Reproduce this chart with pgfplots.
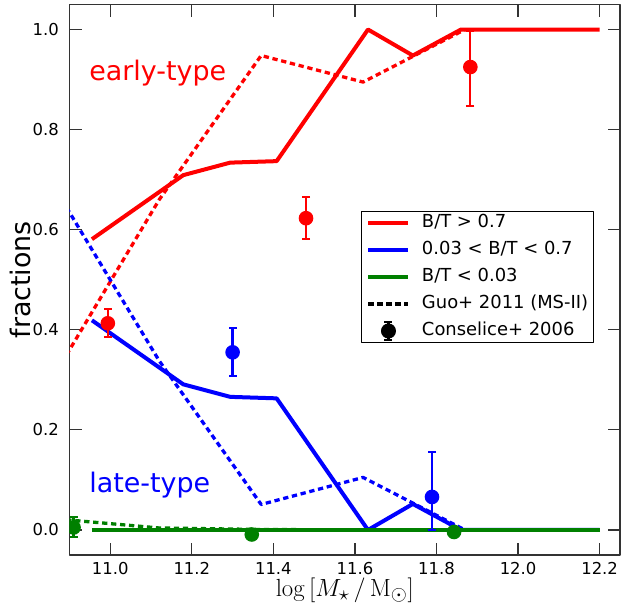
\documentclass[border=0pt]{standalone}
\usepackage[no-math]{fontspec}
\setmainfont{DejaVu Sans}
\usepackage{pgfplots}
\pgfplotsset{compat=1.18}
\definecolor{mred}{rgb}{1,0,0}
\definecolor{mblue}{rgb}{0,0,1}
\definecolor{mgreen}{rgb}{0,0.5,0}
\begin{document}
\begin{tikzpicture}
\begin{axis}[
  scale only axis, width=550.5bp, height=550.5bp,
  xmin=10.9, xmax=12.25, ymin=-0.05, ymax=1.05,
  xtick={11.0,11.2,11.4,11.6,11.8,12.0,12.2},
  ytick={0.0,0.2,0.4,0.6,0.8,1.0},
  tick align=inside, major tick length=12.5bp,
  /pgf/number format/assume math mode=true,
  x tick label style={/pgf/number format/.cd, fixed, fixed zerofill, precision=1, /tikz/.cd, inner sep=0bp, anchor=north, yshift=-7bp},
  y tick label style={/pgf/number format/.cd, fixed, fixed zerofill, precision=1, /tikz/.cd, inner sep=0bp, anchor=east, xshift=-10.5bp},
  tick label style={font=\fontsize{16.5}{19}\selectfont},
  axis line style={line width=1.2bp, black!80},
  every tick/.style={line width=1.2bp, black!80},
  clip marker paths=true,
  unbounded coords=jump,
  xlabel={$\log\,[M_{\star}\,/\,\mathrm{M}_{\odot}]$},
  xlabel style={at={(axis description cs:0.5,-0.0757)}, anchor=base, font=\fontsize{28.5}{32}\selectfont},
  ylabel={fractions},
  ylabel style={at={(axis description cs:-0.0717,0.5)}, anchor=base, rotate=0, font=\fontsize{27}{32}\selectfont},
  legend cell align=left,
  legend style={at={(0.5295,0.6249)}, anchor=north west, draw=black, line width=1bp, fill=white,
    font=\fontsize{18}{21}\selectfont, inner xsep=5bp, inner ysep=3bp,
    nodes={inner sep=0bp, text height=13bp, text depth=4bp},
    row sep=10bp},
  line join=round,
]
\addlegendimage{legend image code/.code={\draw[mred,line width=4bp] (0bp,0bp) -- (40bp,0bp); \path (53bp,0bp);}}
\addlegendentry{B/T > 0.7}
\addlegendimage{legend image code/.code={\draw[mblue,line width=4bp] (0bp,0bp) -- (40bp,0bp); \path (53bp,0bp);}}
\addlegendentry{0.03 < B/T < 0.7}
\addlegendimage{legend image code/.code={\draw[mgreen,line width=4bp] (0bp,0bp) -- (40bp,0bp); \path (53bp,0bp);}}
\addlegendentry{B/T < 0.03}
\addlegendimage{legend image code/.code={\draw[black,line width=3.3bp,dash pattern=on 5.3bp off 3.7bp] (0bp,0bp) -- (40bp,0bp); \path (53bp,0bp);}}
\addlegendentry{Guo+ 2011 (MS-II)}
\addlegendimage{legend image code/.code={\draw[black,line width=2.2bp,overlay] (20bp,-9bp) -- (20bp,9bp); \draw[black,line width=2bp,overlay] (16bp,-9bp) -- (24bp,-9bp) (16bp,9bp) -- (24bp,9bp); \fill[black] (20bp,0bp) circle (7bp); \path (53bp,0bp);}}
\addlegendentry{Conselice+ 2006}

% Guo+ 2011 (dashed)
\addplot[mred, line width=3.3bp, dash pattern=on 5.3bp off 3.7bp, forget plot] coordinates {
 (10.87,0.319) (11.12,0.660) (11.37,0.948) (11.62,0.895) (11.87,1.000)};
\addplot[mblue, line width=3.3bp, dash pattern=on 5.3bp off 3.7bp, forget plot] coordinates {
 (10.87,0.675) (11.12,0.338) (11.37,0.051) (11.62,0.105) (11.87,0.000)};
\addplot[mgreen, line width=3.3bp, dash pattern=on 5.3bp off 3.7bp, forget plot] coordinates {
 (10.87,0.022) (11.12,0.004) (11.37,0.001) (11.62,0.000) (11.87,0.000)};

% model (solid)
\addplot[mred, line width=4bp, forget plot] coordinates {
 (10.955,0.581) (11.179,0.709) (11.294,0.734) (11.408,0.737) (11.632,1.000) (11.742,0.948) (11.860,1.000) (12.200,1.000)};
\addplot[mblue, line width=4bp, forget plot] coordinates {
 (10.955,0.419) (11.179,0.291) (11.294,0.266) (11.408,0.263) (11.632,0.000) (11.742,0.052) (11.860,0.000) (12.200,0.000)};
\addplot[mgreen, line width=4bp, forget plot] coordinates {
 (10.955,0.000) (11.179,0.000) (11.294,0.000) (11.408,0.000) (11.632,0.000) (11.742,0.000) (11.860,0.000) (12.200,0.000)};

% Conselice+ 2006: error bars (value - minus, value + plus)
\addplot[mred, line width=2.3bp, forget plot] coordinates {
 (10.994,0.385) (10.994,0.441) (10.994,nan)
 (11.480,0.581) (11.480,0.665) (11.480,nan)
 (11.883,0.848) (11.883,0.998)};
\addplot[only marks, mark=-, mark size=4bp, mred, mark options={line width=2bp}, forget plot] coordinates {
 (10.994,0.385) (10.994,0.441) (11.480,0.581) (11.480,0.665) (11.883,0.848) (11.883,0.998)};
\addplot[mblue, line width=2.3bp, forget plot] coordinates {
 (11.300,0.307) (11.300,0.403) (11.300,nan)
 (11.789,0.000) (11.789,0.156)};
\addplot[only marks, mark=-, mark size=4bp, mblue, mark options={line width=2bp}, forget plot] coordinates {
 (11.300,0.307) (11.300,0.403) (11.789,0.000) (11.789,0.156)};
\addplot[mgreen, line width=2.3bp, forget plot] coordinates {
 (10.910,-0.015) (10.910,0.025)};
\addplot[only marks, mark=-, mark size=4bp, mgreen, mark options={line width=2bp}, forget plot] coordinates {
 (10.910,-0.015) (10.910,0.025)};

% Conselice+ 2006: points
\addplot[only marks, mark=*, mark size=6.3bp, mred, line width=2bp, mark options={draw=mred, fill=mred, solid}, forget plot] coordinates {
 (10.994,0.413) (11.480,0.623) (11.883,0.925)};
\addplot[only marks, mark=*, mark size=6.3bp, mblue, line width=2bp, mark options={draw=mblue, fill=mblue, solid}, forget plot] coordinates {
 (11.300,0.355) (11.789,0.066)};
\addplot[only marks, mark=*, mark size=6.3bp, mgreen, line width=2bp, mark options={draw=mgreen, fill=mgreen, solid}, forget plot] coordinates {
 (10.910,0.005) (11.347,-0.009) (11.843,-0.004)};

\node[anchor=base west, text=mred, font=\fontsize{27}{32}\selectfont] at (axis cs:10.94,0.898) {early-type};
\node[anchor=base west, text=mblue, font=\fontsize{27}{32}\selectfont] at (axis cs:10.94,0.074) {late-type};
\end{axis}
\pgfresetboundingbox
\path[use as bounding box] ([xshift=-69.5bp,yshift=-56bp]current axis.south west) rectangle ++(623bp,611bp);
\end{tikzpicture}
\end{document}
